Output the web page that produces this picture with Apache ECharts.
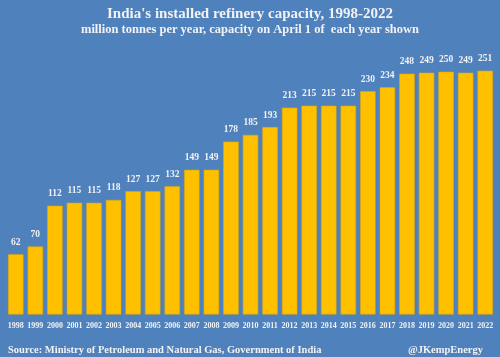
<!DOCTYPE html>
<html><head><meta charset="utf-8">
<script src="https://cdn.jsdelivr.net/npm/echarts@6/dist/echarts.min.js"></script>
<style>html,body{margin:0;padding:0;background:#4F81BD;}#c{width:500px;height:357px;}</style>
</head><body><div id="c"></div>
<script>
const years = ['1998','1999','2000','2001','2002','2003','2004','2005','2006','2007','2008','2009','2010','2011','2012','2013','2014','2015','2016','2017','2018','2019','2020','2021','2022'];
const capacity = [62,70,112,115,115,118,127,127,132,149,149,178,185,193,213,215,215,215,230,234,248,249,250,249,251];
const titleText = "India's installed refinery capacity, 1998-2022";
const subtitleText = "million tonnes per year, capacity on April 1 of  each year shown";
const sourceText = "Source: Ministry of Petroleum and Natural Gas, Government of India";
const handleText = "@JKempEnergy";
const font = "'Liberation Serif', 'DejaVu Serif', serif";
const chart = echarts.init(document.getElementById('c'));
chart.setOption({
  backgroundColor: '#4F81BD',
  animation: false,
  title: [
    {text: titleText, left: 'center', top: 2, textStyle: {color: '#F2F2F2', fontFamily: font, fontSize: 15, fontWeight: 'bold'}},
    {text: subtitleText, left: 'center', top: 18, textStyle: {color: '#F2F2F2', fontFamily: font, fontSize: 12.5, fontWeight: 'bold'}},
    {text: sourceText, left: 3, top: 340, textStyle: {color: '#F2F2F2', fontFamily: font, fontSize: 10.5, fontWeight: 'bold'}},
    {text: handleText, right: 12, top: 340, textStyle: {color: '#F2F2F2', fontFamily: font, fontSize: 10.5, fontWeight: 'bold'}}
  ],
  grid: {left: 6, right: 5, top: 62, bottom: 42.5, containLabel: false},
  xAxis: {type: 'category', data: years,
    axisLine: {show: false}, axisTick: {show: false},
    axisLabel: {color: '#F2F2F2', fontFamily: font, fontSize: 8, fontWeight: 'bold', margin: 7, interval: 0}},
  yAxis: {type: 'value', min: 0, max: 260, show: false, splitLine: {show: false}},
  series: [{type: 'bar', data: capacity, barWidth: '79%',
    itemStyle: {color: '#FFC000', borderColor: '#E0A800', borderWidth: 0.6},
    label: {show: true, position: 'top', distance: 7, color: '#F2F2F2', fontFamily: font, fontSize: 9.5, fontWeight: 'bold'}}]
});
</script></body></html>
